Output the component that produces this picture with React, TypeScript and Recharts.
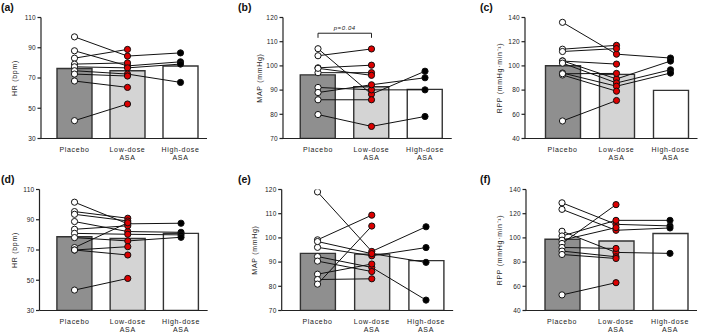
import React from 'react';
import { ComposedChart, Bar, Line, XAxis, YAxis, Cell, ReferenceLine } from 'recharts';

const categories = ['Placebo', 'Low-dose ASA', 'High-dose ASA'];
const barColors = ['#8f8f8f', '#d4d4d4', '#ffffff'];
const dotColors = ['#ffffff', '#dd0000', '#000000'];

// (a) HR
const hrMeansA = [76.3, 74.8, 77.9];
const hrSubjectsA = [
  [97.2, 84.5, 86.6],
  [88.0, 78.0, 80.7],
  [83.1, 88.9, null],
  [79.2, 80.0, null],
  [77.4, 76.7, 79.2],
  [74.8, 72.6, 67.1],
  [72.6, 71.3, null],
  [68.0, 63.8, null],
  [41.8, 52.8, null],
];

// (b) MAP
const mapMeansB = [96.3, 91.4, 90.3];
const mapSubjectsB = [
  [107.1, 88.3, 97.8],
  [104.2, 107.0, null],
  [99.2, 100.3, null],
  [97.2, 97.2, null],
  [99.0, 96.1, null],
  [91.1, 90.1, 90.1],
  [89.0, 92.2, 95.1],
  [86.0, 86.0, null],
  [79.9, 75.0, 79.1],
];

// (c) RPP
const rppMeansC = [100.1, 93.0, 79.8];
const rppSubjectsC = [
  [136.0, 109.7, 106.5],
  [113.8, 117.0, null],
  [111.9, 114.3, null],
  [104.2, 89.2, 104.0],
  [104.0, 101.5, null],
  [102.3, 85.9, 96.8],
  [94.1, 83.2, 94.1],
  [92.5, 79.1, null],
  [93.5, 93.8, null],
  [54.5, 71.4, null],
];

// (d) HR
const hrMeansD = [78.8, 77.6, 81.0];
const hrSubjectsD = [
  [101.6, 87.3, 87.7],
  [95.4, 91.0, null],
  [93.6, 89.2, null],
  [88.8, 82.2, 81.7],
  [83.7, 86.0, null],
  [81.0, 80.4, 80.0],
  [78.2, 76.0, 78.4],
  [71.6, 88.0, null],
  [70.0, 72.2, null],
  [70.0, 66.7, null],
  [43.5, 51.2, null],
];

// (e) MAP
const mapMeansE = [93.6, 93.3, 90.6];
const mapSubjectsE = [
  [119.0, 94.4, 104.6],
  [99.2, 109.4, null],
  [96.1, 92.6, 96.0],
  [98.5, 93.5, 89.9],
  [92.3, 87.8, 74.3],
  [90.4, 86.1, null],
  [85.0, 89.2, null],
  [82.8, 83.1, null],
  [80.9, 104.9, null],
];

// (f) RPP
const rppMeansF = [98.9, 97.5, 103.6];
const rppSubjectsF = [
  [129.0, 111.2, 109.9],
  [123.6, 106.3, 108.2],
  [105.5, 88.0, 87.2],
  [101.6, 114.5, 114.5],
  [98.1, 108.5, null],
  [95.4, 127.5, null],
  [92.1, 91.3, null],
  [89.1, 84.4, null],
  [86.3, 83.0, null],
  [52.9, 63.0, null],
];

const FONT = '"Liberation Sans", Arial, sans-serif';

const CatTick = (props: any) => {
  const { x, y, payload } = props;
  const words = String(payload.value).split(' ');
  return (
    <text x={x} y={y} textAnchor="middle" fontSize={7} letterSpacing={0.7} fill="#222" fontFamily={FONT}>
      {words.map((w, i) => (
        <tspan key={i} x={x} dy={i === 0 ? 13 : 8.5}>{w}</tspan>
      ))}
    </text>
  );
};

const renderDot = (props: any) => {
  const { cx, cy, index, value, dataKey } = props;
  const k = `${dataKey}-${index}`;
  if (value == null || cx == null || cy == null) return <g key={k} />;
  return <circle key={k} cx={cx} cy={cy} r={3.1} fill={dotColors[index]} stroke="#111" strokeWidth={1} />;
};

interface PanelProps {
  letter: string;
  left: number;
  top: number;
  width: number;
  yWidth: number;
  padLeft: number;
  band: number;
  labelOffset: number;
  means: number[];
  subjects: (number | null)[][];
  yLabel: string;
  domain: [number, number];
  ticks: number[];
  bracket?: { y: number; drop: number; text: string };
}

const Panel: React.FC<PanelProps> = (p) => {
  const data = categories.map((cat, i) => {
    const row: any = { cat, mean: p.means[i] };
    p.subjects.forEach((s, j) => {
      row[`s${j}`] = s[i];
    });
    return row;
  });
  const plotWidth = p.padLeft + 3 * p.band;
  const height = 172;

  return (
    <div style={{ position: 'absolute', left: p.left, top: p.top, width: p.width, height }}>
      <div style={{ position: 'absolute', left: p.letter === '(c)' || p.letter === '(f)' ? 10 : p.letter === '(a)' || p.letter === '(d)' ? 1 : 3, top: 2, fontSize: 10.5, fontWeight: 'bold', lineHeight: '11px', fontFamily: FONT, color: '#111' }}>
        {p.letter}
      </div>
      <ComposedChart
        width={p.width}
        height={height}
        data={data}
        margin={{ top: 17.5, right: p.width - p.yWidth - plotWidth, bottom: 0, left: 0 }}
      >
        <XAxis
          dataKey="cat"
          padding={{ left: p.padLeft, right: 0 }}
          height={33.5}
          tickLine={false}
          tickSize={0}
          tickMargin={0}
          interval={0}
          tick={<CatTick />}
          axisLine={{ stroke: '#222', strokeWidth: 1.2 }}
        />
        <YAxis
          type="number"
          domain={p.domain}
          ticks={p.ticks}
          interval={0}
          allowDataOverflow
          width={p.yWidth}
          tickSize={3.5}
          tickMargin={1.5}
          tick={{ fontSize: 6.5, fill: '#222', fontFamily: FONT, letterSpacing: 0.3 }}
          tickLine={{ stroke: '#222', strokeWidth: 1.2 }}
          axisLine={{ stroke: '#222', strokeWidth: 1.2 }}
          label={{
            value: p.yLabel,
            angle: -90,
            position: 'insideLeft',
            offset: p.labelOffset,
            style: { textAnchor: 'middle', fontSize: 7, letterSpacing: 0.7, fill: '#222', fontFamily: FONT },
          }}
        />
        <Bar dataKey="mean" barSize={35} stroke="#333" strokeWidth={1.4} isAnimationActive={false}>
          {data.map((_, i) => (
            <Cell key={i} fill={barColors[i]} />
          ))}
        </Bar>
        {p.subjects.map((_, j) => (
          <Line
            key={`l${j}`}
            dataKey={`s${j}`}
            stroke="#111"
            strokeWidth={1}
            dot={false}
            activeDot={false}
            connectNulls={false}
            isAnimationActive={false}
          />
        ))}
        {p.subjects.map((_, j) => (
          <Line
            key={`d${j}`}
            dataKey={`s${j}`}
            stroke="none"
            dot={renderDot}
            activeDot={false}
            isAnimationActive={false}
          />
        ))}
        {p.bracket && (
          <ReferenceLine
            segment={[
              { x: categories[0], y: p.bracket.y },
              { x: categories[1], y: p.bracket.y },
            ]}
            stroke="#222"
            strokeWidth={1}
            ifOverflow="visible"
            label={{
              value: p.bracket.text,
              position: 'top',
              offset: 3,
              style: { fontSize: 6, fontStyle: 'italic', letterSpacing: 0.6, fill: '#222', fontFamily: FONT },
            }}
          />
        )}
        {p.bracket &&
          [0, 1].map((i) => (
            <ReferenceLine
              key={`bk${i}`}
              segment={[
                { x: categories[i], y: p.bracket!.y },
                { x: categories[i], y: p.bracket!.drop },
              ]}
              stroke="#222"
              strokeWidth={1}
              ifOverflow="visible"
            />
          ))}
      </ComposedChart>
    </div>
  );
};

export default function App() {
  return (
    <div style={{ position: 'absolute', left: 0, top: 0, width: 709, height: 333, overflow: 'hidden', background: '#fff', fontFamily: FONT }}>
      <Panel letter="(a)" left={0} top={0} width={235} yWidth={41} padLeft={7} band={53} labelOffset={15}
        means={hrMeansA} subjects={hrSubjectsA} yLabel="HR (bpm)" domain={[30, 110]} ticks={[30, 50, 70, 90, 110]} />
      <Panel letter="(b)" left={235} top={0} width={235} yWidth={48} padLeft={8.25} band={53.5} labelOffset={25}
        means={mapMeansB} subjects={mapSubjectsB} yLabel="MAP (mmHg)" domain={[70, 120]} ticks={[70, 80, 90, 100, 110, 120]}
        bracket={{ y: 113.5, drop: 111.6, text: 'p=0.04' }} />
      <Panel letter="(c)" left={470} top={0} width={239} yWidth={55} padLeft={10.5} band={54} labelOffset={30}
        means={rppMeansC} subjects={rppSubjectsC} yLabel="RPP (mmHg·min⁻¹)" domain={[40, 140]} ticks={[40, 60, 80, 100, 120, 140]} />
      <Panel letter="(d)" left={0} top={172} width={235} yWidth={39.5} padLeft={8.4} band={53.25} labelOffset={14.5}
        means={hrMeansD} subjects={hrSubjectsD} yLabel="HR (bpm)" domain={[30, 110]} ticks={[30, 50, 70, 90, 110]} />
      <Panel letter="(e)" left={235} top={172} width={235} yWidth={46.7} padLeft={8.7} band={54.25} labelOffset={20}
        means={mapMeansE} subjects={mapSubjectsE} yLabel="MAP (mmHg)" domain={[70, 120]} ticks={[70, 80, 90, 100, 110, 120]} />
      <Panel letter="(f)" left={470} top={172} width={239} yWidth={56} padLeft={9} band={54} labelOffset={29.5}
        means={rppMeansF} subjects={rppSubjectsF} yLabel="RPP (mmHg·min⁻¹)" domain={[40, 140]} ticks={[40, 60, 80, 100, 120, 140]} />
    </div>
  );
}
